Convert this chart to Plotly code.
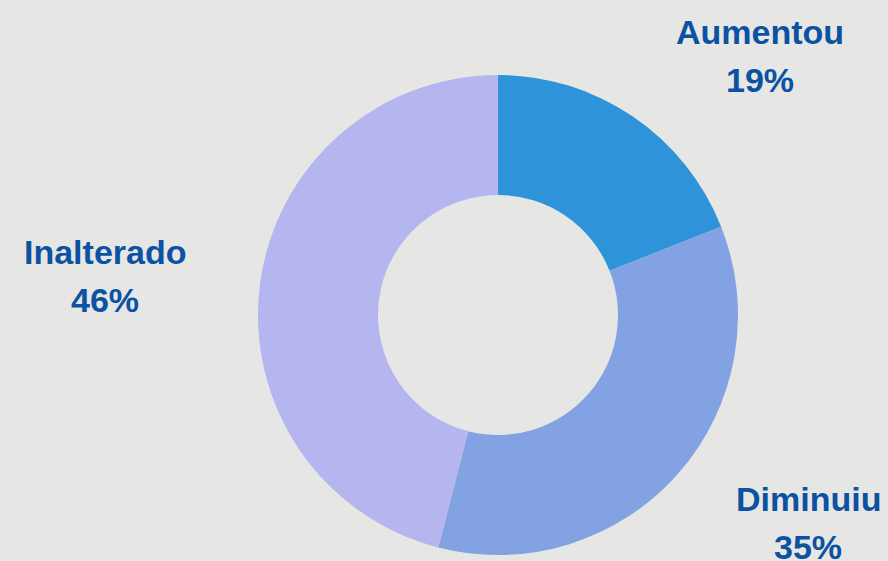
import plotly.graph_objects as go

labels = ["Aumentou", "Diminuiu", "Inalterado"]
values = [19, 35, 46]
colors = ["#2e93d8", "#82a2e3", "#b5b5f0"]

W, H = 888, 561
# label positions in pixels (center x, middle y of the name line)
label_pos = {"Aumentou": (760, 32), "Diminuiu": (808, 499), "Inalterado": (105, 252)}
line_gap = 48

fig = go.Figure(go.Pie(
    labels=labels, values=values, marker=dict(colors=colors, line=dict(width=0)),
    hole=0.5, sort=False, direction="clockwise", rotation=0,
    textinfo="none", hoverinfo="label+percent", showlegend=False,
    domain=dict(x=[(498 - 240) / W, (498 + 240) / W], y=[(246 - 240) / H, (246 + 240) / H]),
))

total = sum(values)
font = dict(family="Liberation Sans, Arial, sans-serif", size=34, color="#0b52a3")
for lab, val in zip(labels, values):
    px, py = label_pos[lab]
    pct = f"{round(val / total * 100)}%"
    for i, txt in enumerate([f"<b>{lab}</b>", f"<b>{pct}</b>"]):
        fig.add_annotation(x=px / W, y=1 - (py + i * line_gap) / H, xref="paper", yref="paper",
                           text=txt, showarrow=False, xanchor="center", yanchor="middle", font=font)

fig.update_layout(width=W, height=H, margin=dict(l=0, r=0, t=0, b=0),
                  paper_bgcolor="#e6e6e4", plot_bgcolor="#e6e6e4")
fig.write_html("out.html", config={"displayModeBar": False},
               post_script="document.body.style.margin='0';document.body.style.overflow='hidden';")
